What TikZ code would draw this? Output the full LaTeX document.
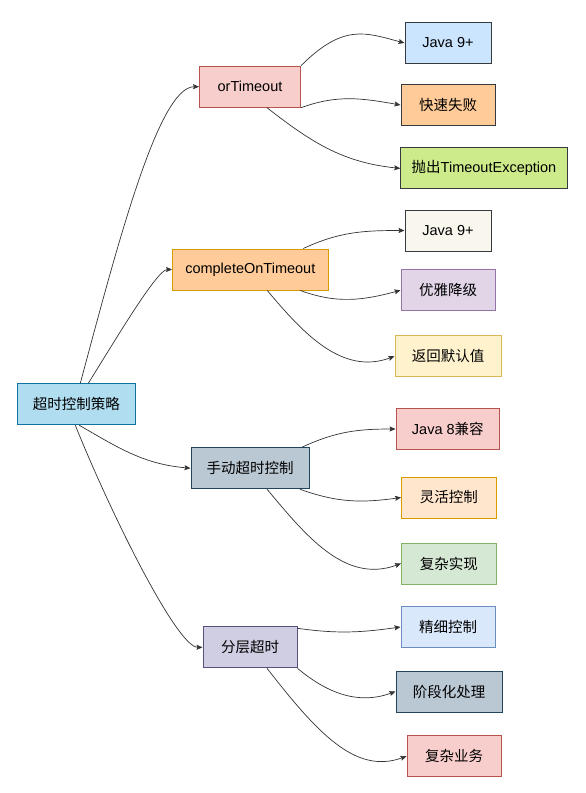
\documentclass[tikz,border=0pt]{standalone}
\usepackage{fontspec}
\setmainfont{Liberation Sans}
\newfontfamily\cjk{Noto Sans CJK SC}
\usetikzlibrary{arrows.meta}
\definecolor{dk}{HTML}{36393D}
\definecolor{fJa}{HTML}{CCE5FF}
\definecolor{fRed}{HTML}{F8CECC}\definecolor{dRed}{HTML}{B85450}
\definecolor{fOr}{HTML}{FFCC99}\definecolor{dOr}{HTML}{D79B00}
\definecolor{fGrn}{HTML}{CDEB8B}
\definecolor{fCrm}{HTML}{F9F7ED}
\definecolor{fPur}{HTML}{E1D5E7}\definecolor{dPur}{HTML}{9673A6}
\definecolor{fYel}{HTML}{FFF2CC}\definecolor{dYel}{HTML}{D6B656}
\definecolor{fCy}{HTML}{B1DDF0}\definecolor{dCy}{HTML}{10739E}
\definecolor{fSl}{HTML}{BAC8D3}\definecolor{dSl}{HTML}{23445D}
\definecolor{fLOr}{HTML}{FFE6CC}
\definecolor{fLG}{HTML}{D5E8D4}\definecolor{dLG}{HTML}{82B366}
\definecolor{fLB}{HTML}{DAE8FC}\definecolor{dLB}{HTML}{6C8EBF}
\definecolor{fLav}{HTML}{D0CEE2}\definecolor{dLav}{HTML}{56517E}
\begin{document}
\begin{tikzpicture}[x=1pt,y=1pt,
  box/.style={draw, line width=1pt, inner sep=0pt, minimum height=41pt, font=\fontsize{14.5}{17}\selectfont},
  arr/.style={-{Stealth[length=6pt,width=5pt,inset=1pt]}, line width=0.7pt, draw=black!80}]
\useasboundingbox (0,0) rectangle (586,-793);
\node[box, fill=fJa, draw=dk, minimum width=86pt] (j1) at (448,-43) {Java 9+};
\node[box, fill=fRed, draw=dRed, minimum width=101pt] (or) at (250,-86.7) {orTimeout};
\node[box, fill=fOr, draw=dk, minimum width=94pt] (fast) at (448,-105) {\cjk 快速失败};
\node[box, fill=fGrn, draw=dk, minimum width=166.5pt] (throw) at (484,-168.4) {{\cjk 抛出}TimeoutException};
\node[box, fill=fCrm, draw=dk, minimum width=86pt] (j2) at (448,-230.5) {Java 9+};
\node[box, fill=fOr, draw=dOr, minimum width=155.5pt] (cot) at (250.3,-269.5) {completeOnTimeout};
\node[box, fill=fPur, draw=dPur, minimum width=94pt] (deg) at (448,-290.3) {\cjk 优雅降级};
\node[box, fill=fYel, draw=dYel, minimum width=106pt] (def) at (448,-356.3) {\cjk 返回默认值};
\node[box, fill=fCy, draw=dCy, minimum width=117.5pt] (root) at (76.3,-404.3) {\cjk 超时控制策略};
\node[box, fill=fRed, draw=dRed, minimum width=103.5pt] (j8) at (447.8,-429) {Java 8{\cjk 兼容}};
\node[box, fill=fSl, draw=dSl, minimum width=118pt] (man) at (250,-468.2) {\cjk 手动超时控制};
\node[box, fill=fLOr, draw=dOr, minimum width=94.5pt] (flex) at (448.8,-497.5) {\cjk 灵活控制};
\node[box, fill=fLG, draw=dLG, minimum width=94.5pt] (cplx) at (448.8,-563.5) {\cjk 复杂实现};
\node[box, fill=fLB, draw=dLB, minimum width=94pt] (fine) at (448,-627) {\cjk 精细控制};
\node[box, fill=fLav, draw=dLav, minimum width=94pt] (layer) at (250,-647.3) {\cjk 分层超时};
\node[box, fill=fSl, draw=dSl, minimum width=106pt] (stage) at (449,-691.5) {\cjk 阶段化处理};
\node[box, fill=fRed, draw=dRed, minimum width=94pt] (biz) at (454,-756.2) {\cjk 复杂业务};

\draw[arr] ([xshift=4pt]root.north) to[out=75,in=180,out distance=150pt,in distance=40pt] (or.west);
\draw[arr] ([xshift=12pt]root.north) to[out=58,in=180,out distance=50pt,in distance=15pt] (cot.west);
\draw[arr] ([xshift=3pt]root.south) to[out=-30,in=175] (man.west);
\draw[arr] ([xshift=-1pt]root.south) to[out=-68,in=180,out distance=100pt,in distance=25pt] (layer.west);

\draw[arr] (or.north east) to[out=45,in=165,out distance=60pt,in distance=40pt] (j1.west);
\draw[arr] (or.south east) to[out=20,in=170] (fast.west);
\draw[arr] ([xshift=17pt]or.south) to[out=-38,in=174] (throw.west);

\draw[arr] ([xshift=53pt]cot.north) to[out=25,in=180] (j2.west);
\draw[arr] ([xshift=50pt]cot.south) to[out=-20,in=195] (deg.west);
\draw[arr] ([xshift=17pt]cot.south) to[out=-50,in=200] (def.west);

\draw[arr] ([xshift=52pt]man.north) to[out=25,in=180] (j8.west);
\draw[arr] ([xshift=50pt]man.south) to[out=-20,in=188] (flex.west);
\draw[arr] ([xshift=17pt]man.south) to[out=-50,in=200] (cplx.west);

\draw[arr] ([yshift=-2pt]layer.north east) to[out=-8,in=188] (fine.west);
\draw[arr] (layer.south east) to[out=-40,in=200] (stage.west);
\draw[arr] ([xshift=17pt]layer.south) to[out=-52,in=200,out distance=80pt,in distance=55pt] (biz.west);
\end{tikzpicture}
\end{document}
